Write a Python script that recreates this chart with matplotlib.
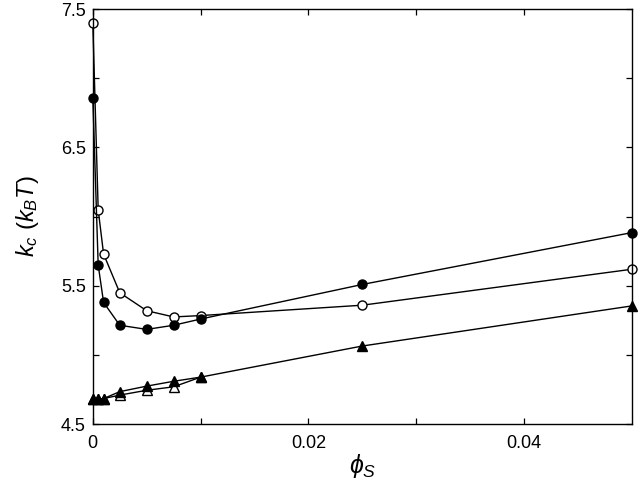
import matplotlib
matplotlib.use("Agg")
import matplotlib.pyplot as plt

plt.rcParams['font.family'] = ['Liberation Sans', 'DejaVu Sans']
plt.rcParams['mathtext.fontset'] = 'custom'
plt.rcParams['mathtext.rm'] = 'Liberation Sans'
plt.rcParams['mathtext.it'] = 'Liberation Sans:italic'

# volume fraction phi_s
phi = [0.0, 0.0005, 0.001, 0.0025, 0.005, 0.0075, 0.01, 0.025, 0.05]
phi_short = [0.0, 0.0005, 0.001, 0.0025, 0.005, 0.0075, 0.01]

kc_filled_circ = [6.86, 5.65, 5.38, 5.215, 5.185, 5.215, 5.26, 5.51, 5.885]
kc_open_circ = [7.40, 6.05, 5.73, 5.45, 5.32, 5.275, 5.285, 5.36, 5.62]
kc_filled_tri = [4.68, 4.68, 4.685, 4.735, 4.775, 4.81, 4.84, 5.065, 5.355]
kc_open_tri = [4.68, 4.68, 4.685, 4.71, 4.745, 4.77, 4.84]

xticks = [0, 0.02, 0.04]
xtick_labels = ['0', '0.02', '0.04']
yticks = [4.5, 5.5, 6.5, 7.5]

fig = plt.figure(figsize=(6.4, 4.82), dpi=100)
ax = fig.add_axes([0.145, 0.12, 0.8425, 0.861])

lw = 1.0
ax.plot(phi_short, kc_open_tri, '-^', color='k', mfc='white', mec='k', ms=6.5, lw=lw, mew=1.0, clip_on=False)
ax.plot(phi, kc_filled_tri, '-^', color='k', ms=6.5, lw=lw, clip_on=False)
ax.plot(phi, kc_open_circ, '-o', color='k', mfc='white', mec='k', ms=6.5, lw=lw, mew=1.0, clip_on=False)
ax.plot(phi, kc_filled_circ, '-o', color='k', ms=6.5, lw=lw, clip_on=False)

ax.set_xlim(0, 0.05)
ax.set_ylim(4.5, 7.5)
ax.set_xticks(xticks)
ax.set_xticklabels(xtick_labels)
ax.set_xticks([0.01, 0.03], minor=True)
ax.set_yticks(yticks)
ax.set_yticks([5.0, 6.0, 7.0], minor=True)
ax.tick_params(which='both', direction='in', top=True, right=True, labelsize=13, length=4, width=0.9)
ax.tick_params(axis='x', pad=8)
ax.tick_params(axis='y', pad=5)
for s in ax.spines.values():
    s.set_linewidth(1.0)

ax.set_xlabel(r'$\phi_S$', fontsize=18, labelpad=0)
ax.set_ylabel(r'$k_c\ (k_BT)$', fontsize=17, labelpad=14)

fig.savefig('out.png', dpi=100)
